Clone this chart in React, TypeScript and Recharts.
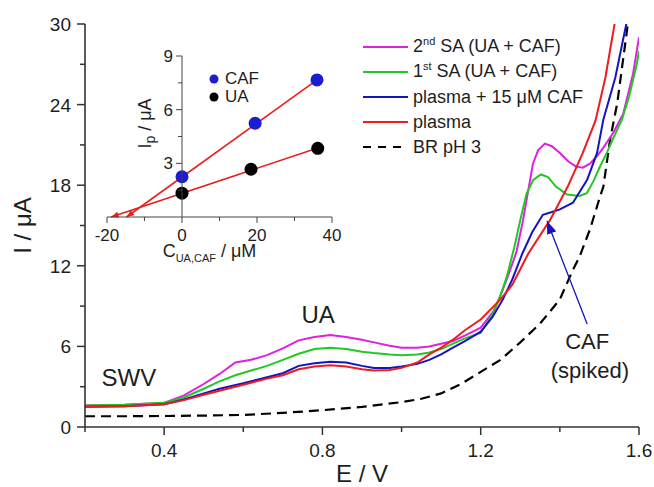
import { LineChart, Line, XAxis, YAxis, ReferenceDot, Legend, ComposedChart, Scatter } from "recharts";

const FONT = '"Liberation Sans", Arial, Helvetica, sans-serif';
const AXIS = "#333";
const TXT = "#1e1e1e";

// SWV curves, [E / V, I / µA]
const sa2nd: [number, number][] = [
  [0.2, 1.6], [0.3, 1.65], [0.4, 1.8], [0.45, 2.35], [0.5, 3.2], [0.54, 3.95], [0.58, 4.8], [0.62, 5.0],
  [0.66, 5.35], [0.7, 5.85], [0.74, 6.45], [0.78, 6.7], [0.82, 6.85], [0.86, 6.7], [0.9, 6.5], [0.93, 6.3],
  [0.97, 6.05], [1.0, 5.9], [1.04, 5.9], [1.07, 6.0], [1.1, 6.2], [1.13, 6.4], [1.16, 6.8], [1.2, 7.4],
  [1.232, 8.6], [1.25, 9.8], [1.266, 11.0], [1.29, 13.0], [1.307, 15.4], [1.32, 17.6], [1.332, 19.6],
  [1.345, 20.6], [1.362, 21.1], [1.38, 20.9], [1.4, 20.4], [1.42, 19.8], [1.44, 19.4], [1.458, 19.3],
  [1.476, 19.6], [1.495, 20.2], [1.51, 20.8], [1.535, 21.9], [1.56, 23.3], [1.585, 26.3], [1.6, 29.0],
];
const sa1st: [number, number][] = [
  [0.2, 1.6], [0.3, 1.65], [0.4, 1.8], [0.45, 2.2], [0.5, 2.85], [0.54, 3.4], [0.58, 3.85], [0.62, 4.2],
  [0.66, 4.55], [0.7, 5.0], [0.74, 5.45], [0.78, 5.8], [0.82, 5.9], [0.86, 5.8], [0.9, 5.6], [0.93, 5.5],
  [0.97, 5.4], [1.0, 5.35], [1.04, 5.4], [1.07, 5.55], [1.1, 5.8], [1.13, 6.2], [1.16, 6.6], [1.2, 7.0],
  [1.232, 8.5], [1.25, 9.8], [1.266, 11.2], [1.285, 13.4], [1.3, 15.4], [1.316, 17.4], [1.333, 18.4],
  [1.352, 18.8], [1.37, 18.6], [1.39, 17.9], [1.418, 17.3], [1.45, 17.2], [1.468, 17.4], [1.485, 18.3],
  [1.5, 19.3], [1.52, 20.5], [1.535, 21.5], [1.557, 22.9], [1.575, 24.6], [1.595, 27.1], [1.6, 28.0],
];
const plasmaCaf: [number, number][] = [
  [0.2, 1.5], [0.3, 1.55], [0.4, 1.7], [0.45, 2.05], [0.5, 2.5], [0.54, 2.85], [0.6, 3.25], [0.66, 3.7],
  [0.7, 4.0], [0.74, 4.55], [0.78, 4.75], [0.82, 4.85], [0.86, 4.8], [0.9, 4.55], [0.93, 4.4], [0.97, 4.4],
  [1.0, 4.5], [1.04, 4.7], [1.07, 5.0], [1.1, 5.4], [1.13, 5.9], [1.16, 6.4], [1.2, 7.1], [1.23, 8.2],
  [1.256, 9.5], [1.28, 11.0], [1.305, 12.9], [1.33, 14.5], [1.357, 15.8], [1.38, 16.0], [1.4, 16.2],
  [1.433, 16.7], [1.469, 18.4], [1.494, 20.4], [1.51, 22.9], [1.54, 26.0], [1.57, 30.3], [1.58, 31.5],
];
const plasma: [number, number][] = [
  [0.2, 1.5], [0.3, 1.55], [0.4, 1.7], [0.45, 2.0], [0.5, 2.4], [0.54, 2.7], [0.6, 3.15], [0.66, 3.6],
  [0.7, 3.85], [0.74, 4.3], [0.78, 4.5], [0.82, 4.6], [0.86, 4.5], [0.9, 4.3], [0.93, 4.2], [0.97, 4.25],
  [1.0, 4.4], [1.04, 4.8], [1.07, 5.4], [1.1, 5.9], [1.13, 6.5], [1.16, 7.2], [1.2, 8.0], [1.25, 9.5],
  [1.28, 10.6], [1.32, 12.9], [1.375, 15.4], [1.42, 17.9], [1.458, 20.4], [1.49, 22.8], [1.515, 26.0],
  [1.54, 30.3], [1.55, 31.5],
];
const brBlank: [number, number][] = [
  [0.2, 0.8], [0.3, 0.8], [0.4, 0.82], [0.5, 0.85], [0.6, 0.9], [0.7, 1.05], [0.8, 1.25], [0.9, 1.5],
  [1.0, 1.85], [1.05, 2.1], [1.1, 2.5], [1.15, 3.2], [1.2, 4.1], [1.25, 5.0], [1.3, 6.3], [1.35, 7.7],
  [1.4, 9.5], [1.433, 11.7], [1.45, 12.7], [1.476, 14.7], [1.5, 17.0], [1.51, 17.9], [1.527, 21.4],
  [1.545, 24.1], [1.57, 29.6], [1.575, 31.0],
];

const xTicks = [0.2, 0.4, 0.6, 0.8, 1.0, 1.2, 1.4, 1.6];
const xLabelTicks = [0.4, 0.8, 1.2, 1.6];
const yTicks = [0, 3, 6, 9, 12, 15, 18, 21, 24, 27, 30];
const yLabelTicks = [0, 6, 12, 18, 24, 30];

// inset: standard addition, [C / µM, Ip / µA]
const cafPts: [number, number][] = [[0, 2.25], [19.5, 5.24], [36, 7.66]];
const uaPts: [number, number][] = [[0, 1.33], [18.4, 2.67], [36.2, 3.84]];
const cafFit: [number, number][] = [[-14.8, 0], [36, 7.66]];
const uaFit: [number, number][] = [[-18.9, 0], [36.2, 3.86]];
const insetXTicks = [-20, -10, 0, 10, 20, 30, 40];
const insetXLabels = [-20, 0, 20, 40];
const insetYTicks = [1.5, 3, 4.5, 6, 7.5, 9];
const insetYLabels = [3, 6, 9];

const legendOrder = ["2nd SA (UA + CAF)", "1st SA (UA + CAF)", "plasma + 15 μM CAF", "plasma", "BR pH 3"];
const lineStyle: Record<string, { stroke: string; dash?: string }> = {
  "2nd SA (UA + CAF)": { stroke: "#e020e0" },
  "1st SA (UA + CAF)": { stroke: "#22c822" },
  "plasma + 15 μM CAF": { stroke: "#1414c0" },
  plasma: { stroke: "#ee1c1c" },
  "BR pH 3": { stroke: "#000", dash: "10 6" },
};

const pts = (arr: [number, number][]) => arr.map(([E, I]) => ({ E, I }));
const cpts = (arr: [number, number][]) => arr.map(([c, ip]) => ({ c, ip }));
const has = (list: number[], v: number) => list.some((t) => Math.abs(t - v) < 1e-6);

const MainXTick = ({ x, y, payload }: any) => {
  const major = has(xLabelTicks, payload.value);
  return (
    <g>
      <line x1={x} x2={x} y1={y} y2={y + (major ? 8 : 5)} stroke={AXIS} strokeWidth={1.5} />
      {major && (
        <text x={x} y={y + 30} textAnchor="middle" fontSize={19} fill={TXT}>
          {payload.value.toFixed(1)}
        </text>
      )}
    </g>
  );
};

const MainYTick = ({ x, y, payload }: any) => {
  const major = has(yLabelTicks, payload.value);
  return (
    <g>
      <line x1={x - (major ? 8 : 5)} x2={x} y1={y} y2={y} stroke={AXIS} strokeWidth={1.5} />
      {major && (
        <text x={x - 14} y={y + 7} textAnchor="end" fontSize={19} fill={TXT}>
          {payload.value}
        </text>
      )}
    </g>
  );
};

const InsetXTick = ({ x, y, payload }: any) => {
  const major = has(insetXLabels, payload.value);
  return (
    <g>
      <line x1={x} x2={x} y1={y} y2={y + (major ? 6 : 4)} stroke="#444" strokeWidth={1} />
      {major && (
        <text x={x} y={y + 24} textAnchor="middle" fontSize={17} fill={TXT}>
          {payload.value}
        </text>
      )}
    </g>
  );
};

const InsetYTick = ({ x, y, payload }: any) => {
  const major = has(insetYLabels, payload.value);
  return (
    <g>
      <line x1={x - (major ? 6 : 4)} x2={x} y1={y} y2={y} stroke="#444" strokeWidth={1} />
      {major && (
        <text x={x - 9} y={y + 6} textAnchor="end" fontSize={17} fill={TXT}>
          {payload.value}
        </text>
      )}
    </g>
  );
};

const renderName = (name: string) => {
  const m = name.match(/^(\d)(nd|st) (.*)$/);
  if (!m) return name;
  return (
    <>
      {m[1]}
      <sup style={{ fontSize: 11, verticalAlign: 0, position: "relative", top: -7 }}>{m[2]}</sup> {m[3]}
    </>
  );
};

const MainLegend = ({ payload }: any) => {
  const names = (payload || []).filter((p: any) => p.type !== "none").map((p: any) => p.value);
  return (
    <div>
      {legendOrder
        .filter((n) => names.includes(n))
        .map((n) => (
          <div key={n} style={{ display: "flex", alignItems: "center", height: 25 }}>
            <svg width={45} height={6}>
              <line x1={0} x2={45} y1={3} y2={3} stroke={lineStyle[n].stroke} strokeWidth={2.2}
                strokeDasharray={lineStyle[n].dash ? "8 7" : undefined} />
            </svg>
            <span style={{ marginLeft: 5, fontSize: 18, color: TXT, whiteSpace: "nowrap", lineHeight: "25px" }}>
              {renderName(n)}
            </span>
          </div>
        ))}
    </div>
  );
};

const InsetLegend = ({ payload }: any) => (
  <div>
    {(payload || [])
      .filter((p: any) => p.type !== "none")
      .map((p: any) => (
        <div key={p.value} style={{ display: "flex", alignItems: "center", height: 18 }}>
          <svg width={10} height={10}>
            <circle cx={5} cy={5} r={4.5} fill={p.color} />
          </svg>
          <span style={{ marginLeft: 6, fontSize: 17, color: TXT, lineHeight: "18px" }}>{p.value}</span>
        </div>
      ))}
  </div>
);

const InsetXTitle = ({ viewBox }: any) => {
  const cx = viewBox.x + viewBox.width / 2 - 10;
  const by = viewBox.y + 40;
  return (
    <text x={cx} y={by} textAnchor="middle" fontSize={18} fill={TXT}>
      <tspan>C</tspan>
      <tspan fontSize={11} dy={5}>UA,CAF</tspan>
      <tspan dy={-5}> / μM</tspan>
    </text>
  );
};

const InsetYTitle = ({ viewBox }: any) => {
  const cx = viewBox.x + 23;
  const cy = viewBox.y + viewBox.height / 2 - 13;
  return (
    <text x={cx} y={cy} transform={`rotate(-90 ${cx} ${cy})`} textAnchor="middle" dy={6} fontSize={18} fill={TXT}>
      <tspan>I</tspan>
      <tspan fontSize={14} dy={4}>p</tspan>
      <tspan dy={-4}> / μA</tspan>
    </text>
  );
};

export default function App() {
  const axisLine = { stroke: AXIS, strokeWidth: 1.6 };
  return (
    <div style={{ position: "absolute", left: 0, top: 0, width: 654, height: 487, background: "#fff", fontFamily: FONT }}>
      <svg width={0} height={0} style={{ position: "absolute" }}>
        <defs>
          <marker id="arrowRed" viewBox="0 0 10 8" refX={10} refY={4} markerWidth={8} markerHeight={6}
            markerUnits="userSpaceOnUse" orient="auto-start-reverse">
            <path d="M0,0 L10,4 L0,8 z" fill="#e8201c" />
          </marker>
          <marker id="arrowBlue" viewBox="0 0 12 9" refX={12} refY={4.5} markerWidth={13} markerHeight={10}
            markerUnits="userSpaceOnUse" orient="auto">
            <path d="M0,0 L12,4.5 L0,9 z" fill="#1414c0" />
          </marker>
        </defs>
      </svg>

      <div style={{ position: "absolute", left: 0, top: 0 }}>
        <LineChart width={654} height={487} margin={{ top: 24, right: 15, bottom: 0, left: 10 }}>
          <XAxis dataKey="E" type="number" domain={[0.2, 1.6]} ticks={xTicks} interval={0} allowDataOverflow
            tickSize={0} tickMargin={0} tickLine={false} tick={MainXTick} height={60} axisLine={axisLine}
            label={{ value: "E / V", position: "insideBottom", offset: 5, fontSize: 24, fill: TXT }} />
          <XAxis xAxisId="top" orientation="top" type="number" domain={[0.2, 1.6]} height={0} tick={false}
            tickLine={false} axisLine={axisLine} />
          <YAxis dataKey="I" type="number" domain={[0, 30]} ticks={yTicks} interval={0} allowDataOverflow
            tickSize={0} tickMargin={0} tickLine={false} tick={MainYTick} width={75} axisLine={axisLine}
            label={{ value: "I / μA", angle: -90, position: "insideLeft", offset: 12, fontSize: 24, fill: TXT,
              style: { textAnchor: "middle" } }} />
          <YAxis yAxisId="right" orientation="right" type="number" domain={[0, 30]} width={0} tick={false}
            tickLine={false} axisLine={axisLine} />
          <Legend layout="vertical" align="center" verticalAlign="middle" content={MainLegend}
            wrapperStyle={{ left: 363, top: 34.5, width: 280 }} />

          <Line data={pts(brBlank)} dataKey="I" name="BR pH 3" stroke="#000" strokeWidth={2.2} strokeDasharray="10 6"
            dot={false} isAnimationActive={false} />
          <Line data={pts(sa2nd)} dataKey="I" name="2nd SA (UA + CAF)" stroke={lineStyle["2nd SA (UA + CAF)"].stroke}
            strokeWidth={2} dot={false} isAnimationActive={false} />
          <Line data={pts(sa1st)} dataKey="I" name="1st SA (UA + CAF)" stroke={lineStyle["1st SA (UA + CAF)"].stroke}
            strokeWidth={2} dot={false} isAnimationActive={false} />
          <Line data={pts(plasmaCaf)} dataKey="I" name="plasma + 15 μM CAF" stroke={lineStyle["plasma + 15 μM CAF"].stroke}
            strokeWidth={2} dot={false} isAnimationActive={false} />
          <Line data={pts(plasma)} dataKey="I" name="plasma" stroke={lineStyle.plasma.stroke}
            strokeWidth={2} dot={false} isAnimationActive={false} />

          {/* CAF arrow */}
          <Line data={[{ E: 1.469, I: 7.67 }, { E: 1.3675, I: 15.34 }]} dataKey="I" stroke="#1414c0" strokeWidth={1.3}
            dot={false} legendType="none" markerEnd="url(#arrowBlue)" isAnimationActive={false} />

          <ReferenceDot x={0.311} y={3.65} r={0} fill="none" stroke="none"
            label={{ value: "SWV", position: "center", fontSize: 24, fill: TXT }} />
          <ReferenceDot x={0.789} y={8.4} r={0} fill="none" stroke="none"
            label={{ value: "UA", position: "center", fontSize: 24, fill: TXT }} />
          <ReferenceDot x={1.469} y={6.4} r={0} fill="none" stroke="none"
            label={{ value: "CAF", position: "center", fontSize: 22, fill: TXT }} />
          <ReferenceDot x={1.476} y={4.25} r={0} fill="none" stroke="none"
            label={{ value: "(spiked)", position: "center", fontSize: 22, fill: TXT }} />
        </LineChart>
      </div>

      {/* inset: data + x axis */}
      <div style={{ position: "absolute", left: 0, top: 0 }}>
        <ComposedChart width={360} height={270} margin={{ top: 56, right: 28, bottom: 0, left: 107 }}>
          <XAxis dataKey="c" type="number" domain={[-20, 40]} ticks={insetXTicks} interval={0} tickSize={0}
            tickMargin={0} tickLine={false} tick={InsetXTick} height={53} axisLine={{ stroke: "#444" }}
            label={InsetXTitle} />
          <YAxis dataKey="ip" type="number" domain={[0, 9]} hide />
          <Legend layout="vertical" align="center" verticalAlign="middle" content={InsetLegend}
            wrapperStyle={{ left: 209, top: 70, width: 80 }} />
          <Scatter name="CAF" data={cpts(cafPts)} fill="#1c1cd0" isAnimationActive={false}
            shape={(p: any) => <circle cx={p.cx} cy={p.cy} r={6.5} fill="#1c1cd0" />} />
          <Scatter name="UA" data={cpts(uaPts)} fill="#000" isAnimationActive={false}
            shape={(p: any) => <circle cx={p.cx} cy={p.cy} r={6.5} fill="#000" />} />
          <Line data={cpts(cafFit)} dataKey="ip" stroke="#e8201c" strokeWidth={1.6} dot={false} legendType="none"
            markerStart="url(#arrowRed)" isAnimationActive={false} />
          <Line data={cpts(uaFit)} dataKey="ip" stroke="#e8201c" strokeWidth={1.6} dot={false} legendType="none"
            markerStart="url(#arrowRed)" isAnimationActive={false} />
        </ComposedChart>
      </div>

      {/* inset: y axis crossing at C = 0 (same scale, invisible series only to drive the axis) */}
      <div style={{ position: "absolute", left: 0, top: 0 }}>
        <ComposedChart width={360} height={270} margin={{ top: 56, right: 28, bottom: 53, left: 122 }}>
          <XAxis dataKey="c" type="number" domain={[0, 40]} allowDataOverflow hide />
          <YAxis dataKey="ip" type="number" domain={[0, 9]} ticks={insetYTicks} interval={0} tickSize={0}
            tickMargin={0} tickLine={false} tick={InsetYTick} width={60} axisLine={{ stroke: "#444" }}
            label={InsetYTitle} />
          <Scatter data={cpts(cafPts)} legendType="none" isAnimationActive={false} shape={() => <g />} />
        </ComposedChart>
      </div>
    </div>
  );
}
